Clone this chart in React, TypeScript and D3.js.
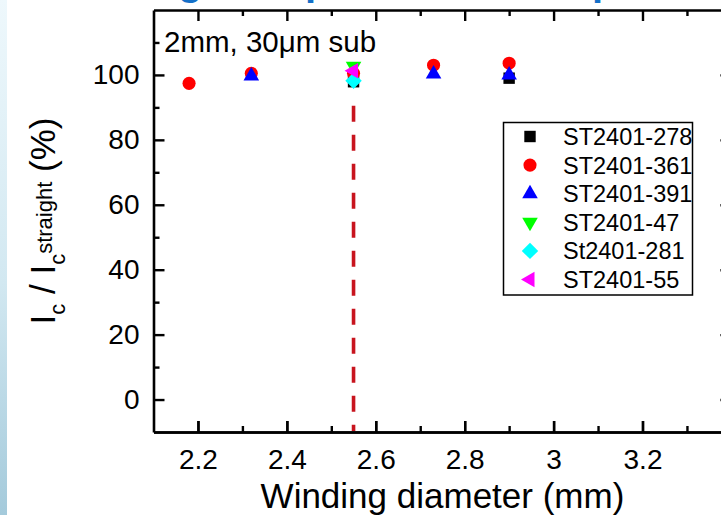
import React, { useEffect, useRef } from "react";
import * as d3 from "d3";

const seriesNames = ["ST2401-278", "ST2401-361", "ST2401-391", "ST2401-47", "St2401-281", "ST2401-55"];
const seriesColors = ["#000000", "#ff0000", "#0000ff", "#00ff00", "#00ffff", "#ff00ff"];
const seriesShapes = ["square", "circle", "triangle", "triangleDown", "diamond", "triangleLeft"];

const x278 = [2.55, 2.9];
const y278 = [97.9, 99.0];
const x361 = [2.18, 2.32, 2.55, 2.73, 2.9];
const y361 = [97.4, 100.5, 100.5, 103.0, 103.6];
const x391 = [2.32, 2.73, 2.9];
const y391 = [99.7, 100.3, 100.0];
const x47 = [2.55];
const y47 = [102.7];
const x281 = [2.55];
const y281 = [98.2];
const x55 = [2.55];
const y55 = [101.3];

const seriesX = [x278, x361, x391, x47, x281, x55];
const seriesY = [y278, y361, y391, y47, y281, y55];

const xDomain = [2.1, 3.4];
const yDomain = [-10, 120];
const xLabelTicks = [2.2, 2.4, 2.6, 2.8, 3.0, 3.2];
const xMajorTicks = [2.2, 2.4, 2.6, 2.8, 3.0, 3.2, 3.4];
const xMinorTicks = [2.3, 2.5, 2.7, 2.9, 3.1, 3.3];
const yMajorTicks = [0, 20, 40, 60, 80, 100];
const yMinorTicks = [10, 30, 50, 70, 90, 110];
const refLineX = 2.55;
const refLineTop = 90.5;

const insetText = "2mm, 30\u03bcm sub";
const xTitle = "Winding diameter (mm)";

const W = 721;
const H = 515;
const FONT = "'Liberation Sans', Arial, Helvetica, sans-serif";

function symbolPath(shape: string) {
  switch (shape) {
    case "square":
      return { d: d3.symbol(d3.symbolSquare, 130)()!, rot: 0 };
    case "circle":
      return { d: d3.symbol(d3.symbolCircle, 135)()!, rot: 0 };
    case "triangle":
      return { d: d3.symbol(d3.symbolTriangle, 105)()!, rot: 0 };
    case "triangleDown":
      return { d: d3.symbol(d3.symbolTriangle, 105)()!, rot: 180 };
    case "diamond":
      return { d: d3.symbol(d3.symbolSquare, 135)()!, rot: 45 };
    case "triangleLeft":
      return { d: d3.symbol(d3.symbolTriangle, 105)()!, rot: -90 };
  }
  return { d: "", rot: 0 };
}

export default function App() {
  const ref = useRef<SVGSVGElement | null>(null);

  useEffect(() => {
    const svg = d3.select(ref.current);
    svg.selectAll("*").remove();

    const left = 153.5, right = 731.4, top = 10, bottom = 432;
    const x = d3.scaleLinear().domain(xDomain).range([left, right]);
    const y = d3.scaleLinear().domain(yDomain).range([bottom, top]);

    const defs = svg.append("defs");
    const grad = defs.append("linearGradient").attr("id", "strip").attr("x1", 0).attr("y1", 0).attr("x2", 0).attr("y2", 1);
    grad.append("stop").attr("offset", "0%").attr("stop-color", "#eef8fc");
    grad.append("stop").attr("offset", "55%").attr("stop-color", "#d2e8f1");
    grad.append("stop").attr("offset", "100%").attr("stop-color", "#a4cadb");

    svg.append("rect").attr("width", W).attr("height", H).attr("fill", "#ffffff");
    svg.append("rect").attr("width", 7).attr("height", H).attr("fill", "url(#strip)");

    // title fragments (descenders of the slide title above, cut off by the crop)
    const titleG = svg.append("g").attr("fill", "#1470c8").attr("font-family", FONT).attr("font-weight", "bold").attr("font-size", 40);
    titleG.append("text").attr("x", 178).attr("y", -5).text("g");
    titleG.append("text").attr("x", 305).attr("y", -5).text("p");
    titleG.append("text").attr("x", 592).attr("y", -5).text("p");

    const styleAxis = (g: any, withText: boolean) => {
      g.select(".domain").attr("stroke", "#000").attr("stroke-width", 2.6);
      g.selectAll(".tick line").attr("stroke", "#000").attr("stroke-width", 2.4);
      if (withText) {
        g.selectAll(".tick text").attr("fill", "#000").attr("font-family", FONT).attr("font-size", 28);
      } else {
        g.selectAll(".tick text").remove();
      }
      g.attr("font-family", null).attr("font-size", null);
    };
    const tickOnly = (g: any) => {
      g.select(".domain").remove();
      g.selectAll(".tick text").remove();
      g.selectAll(".tick line").attr("stroke", "#000").attr("stroke-width", 2.4);
    };

    const fmt = (d: any) => String(+(+d).toFixed(1));

    // minor ticks (inward)
    svg.append("g").attr("transform", `translate(0,${bottom})`)
      .call(d3.axisBottom(x).tickValues(xMinorTicks).tickSizeInner(-6).tickSizeOuter(0)).call(tickOnly);
    svg.append("g").attr("transform", `translate(0,${top})`)
      .call(d3.axisTop(x).tickValues(xMinorTicks).tickSizeInner(-6).tickSizeOuter(0)).call(tickOnly);
    svg.append("g").attr("transform", `translate(${left},0)`)
      .call(d3.axisLeft(y).tickValues(yMinorTicks).tickSizeInner(-6).tickSizeOuter(0)).call(tickOnly);
    svg.append("g").attr("transform", `translate(${right},0)`)
      .call(d3.axisRight(y).tickValues(yMinorTicks).tickSizeInner(-6).tickSizeOuter(0)).call(tickOnly);

    // major ticks without labels (bottom, top, right)
    svg.append("g").attr("transform", `translate(0,${bottom})`)
      .call(d3.axisBottom(x).tickValues(xMajorTicks).tickSizeInner(-11).tickSizeOuter(0))
      .call((g: any) => styleAxis(g, false));
    svg.append("g").attr("transform", `translate(0,${top})`)
      .call(d3.axisTop(x).tickValues(xMajorTicks).tickSizeInner(-11).tickSizeOuter(0))
      .call((g: any) => styleAxis(g, false));
    svg.append("g").attr("transform", `translate(${right},0)`)
      .call(d3.axisRight(y).tickValues(yMajorTicks).tickSizeInner(-11).tickSizeOuter(0))
      .call((g: any) => styleAxis(g, false));

    // labels on bottom and left
    svg.append("g").attr("transform", `translate(0,${bottom})`)
      .call(d3.axisBottom(x).tickValues(xLabelTicks).tickSizeInner(-11).tickSizeOuter(0).tickPadding(17).tickFormat(fmt))
      .call((g: any) => styleAxis(g, true));
    svg.append("g").attr("transform", `translate(${left},0)`)
      .call(d3.axisLeft(y).tickValues(yMajorTicks).tickSizeInner(-11).tickSizeOuter(0).tickPadding(14).tickFormat(fmt))
      .call((g: any) => styleAxis(g, true));

    // reference dashed line
    svg.append("line")
      .attr("x1", x(refLineX)).attr("x2", x(refLineX))
      .attr("y1", y(refLineTop)).attr("y2", bottom - 1)
      .attr("stroke", "#c8141e").attr("stroke-width", 3.6)
      .attr("stroke-dasharray", "16,13");

    // data points
    const pts = svg.append("g");
    seriesNames.forEach((name, i) => {
      const sp = symbolPath(seriesShapes[i]);
      seriesX[i].forEach((xv, j) => {
        pts.append("path")
          .attr("d", sp.d)
          .attr("transform", `translate(${x(xv)},${y(seriesY[i][j])}) rotate(${sp.rot})`)
          .attr("fill", seriesColors[i]);
      });
    });

    // inset label
    svg.append("text").attr("x", 164).attr("y", 52)
      .attr("font-family", FONT).attr("font-size", 29.5).attr("fill", "#000")
      .text(insetText);

    // legend
    const lg = svg.append("g");
    lg.append("rect").attr("x", 503.5).attr("y", 122.5).attr("width", 189).attr("height", 172.5)
      .attr("fill", "#fff").attr("stroke", "#000").attr("stroke-width", 1.5);
    seriesNames.forEach((name, i) => {
      const cy = 136.5 + i * 28.6;
      const sp = symbolPath(seriesShapes[i]);
      lg.append("path").attr("d", sp.d)
        .attr("transform", `translate(530,${cy}) rotate(${sp.rot})`)
        .attr("fill", seriesColors[i]);
      lg.append("text").attr("x", 563).attr("y", cy).attr("dy", "0.36em")
        .attr("font-family", FONT).attr("font-size", 23.5).attr("fill", "#000")
        .text(name);
    });

    // axis titles
    svg.append("text").attr("x", (left + right) / 2).attr("y", 508)
      .attr("text-anchor", "middle").attr("font-family", FONT).attr("font-size", 35).attr("fill", "#000")
      .text(xTitle);

    const yt = svg.append("text")
      .attr("transform", `translate(55,${(top + bottom) / 2}) rotate(-90)`)
      .attr("text-anchor", "middle").attr("font-family", FONT).attr("font-size", 35).attr("fill", "#000");
    yt.append("tspan").text("I");
    yt.append("tspan").attr("font-size", 22).attr("dy", 10).text("c");
    yt.append("tspan").attr("dy", -10).text(" / I");
    yt.append("tspan").attr("font-size", 22).attr("dy", 10).text("c");
    yt.append("tspan").attr("font-size", 22).attr("dy", -13).text("straight");
    yt.append("tspan").attr("dy", 3).text(" (%)");
  }, []);

  return (
    <div style={{ position: "absolute", left: 0, top: 0 }}>
      <svg ref={ref} width={W} height={H} style={{ display: "block" }} />
    </div>
  );
}
